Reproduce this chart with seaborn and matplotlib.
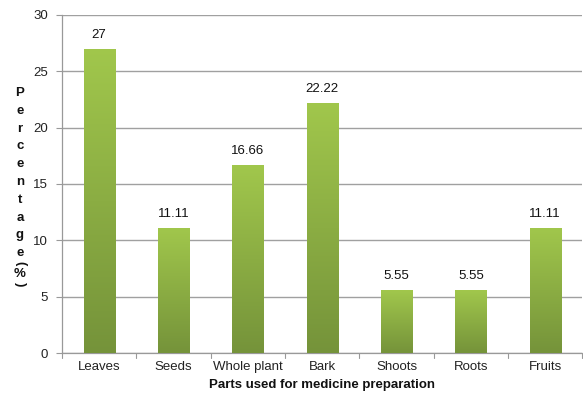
import matplotlib
matplotlib.use("Agg")
import matplotlib.pyplot as plt
import seaborn as sns
import numpy as np
import pandas as pd
from matplotlib.colors import LinearSegmentedColormap

categories = ["Leaves", "Seeds", "Whole plant", "Bark", "Shoots", "Roots", "Fruits"]
values = [27, 11.11, 16.66, 22.22, 5.55, 5.55, 11.11]
value_labels = ["27", "11.11", "16.66", "22.22", "5.55", "5.55", "11.11"]
yticks = [0, 5, 10, 15, 20, 25, 30]

sns.set_theme(style="white")
plt.rcParams['font.family'] = ['Liberation Sans', 'DejaVu Sans']

df = pd.DataFrame({"part": categories, "pct": values})

fig = plt.figure(figsize=(5.83, 4.01), dpi=100)
ax = fig.add_axes([0.1063, 0.1197, 0.8927, 0.8429])

sns.barplot(data=df, x="part", y="pct", ax=ax, color="#8db043", width=0.42,
            saturation=1, zorder=3)

ax.set_ylim(0, 30)
ax.set_xlim(-0.5, len(categories) - 0.5)
ax.set_yticks(yticks)
ax.set_yticklabels([str(t) for t in yticks], fontsize=9.5, color="#222222")
ax.tick_params(axis="x", labelsize=9.5, colors="#222222", length=0, pad=6)
ax.tick_params(axis="y", length=4, width=0.8, color="#999999", pad=6, direction="out", left=True)
ax.yaxis.grid(True, color="#a0a0a0", linewidth=1.0, zorder=0)
ax.set_axisbelow(True)
for s in ["top", "right"]:
    ax.spines[s].set_visible(False)
ax.spines["left"].set_color("#999999")
ax.spines["bottom"].set_color("#999999")
ax.spines["left"].set_linewidth(0.9)
ax.spines["bottom"].set_linewidth(0.9)

# category boundary ticks on x axis
for b in np.arange(-0.5, len(categories) + 0.5, 1.0):
    ax.plot([b, b], [0, -0.45], color="#999999", lw=0.8, clip_on=False, zorder=4)

# gradient fill on bars
cmap = LinearSegmentedColormap.from_list("g", ["#75933a", "#a1c74c"])
grad = np.linspace(0, 1, 256).reshape(-1, 1)
for patch in ax.patches:
    x0, y0 = patch.get_x(), patch.get_y()
    w, h = patch.get_width(), patch.get_height()
    im = ax.imshow(grad, extent=[x0, x0 + w, y0, y0 + h], origin="lower",
                   cmap=cmap, aspect="auto", zorder=3.5)
    im.set_clip_path(patch)
    patch.set_facecolor("none")
    patch.set_edgecolor("none")
ax.set_xlim(-0.5, len(categories) - 0.5)
ax.set_ylim(0, 30)

for i, (v, lab) in enumerate(zip(values, value_labels)):
    ax.text(i, v + 1.25, lab, ha="center", va="center", fontsize=9.5, color="#111111")

ax.set_xlabel("Parts used for medicine preparation", fontsize=9.5, fontweight="bold",
              color="#111111", labelpad=4)
ax.set_ylabel("")

# stacked vertical y label
letters = list("Percentage")
y_top = 1 - 93 / 401
step = 17.8 / 401
x_lab = 20 / 583
for k, ch in enumerate(letters):
    fig.text(x_lab, y_top - k * step, ch, ha="center", va="center", fontsize=9.5,
             fontweight="bold", color="#111111")
fig.text(x_lab, 1 - 263 / 401, "(", ha="center", va="center", fontsize=9.5,
         fontweight="bold", rotation=-90, color="#111111")
fig.text(x_lab, 1 - 274 / 401, "%", ha="center", va="center", fontsize=9.5,
         fontweight="bold", color="#111111")
fig.text(x_lab, 1 - 284 / 401, ")", ha="center", va="center", fontsize=9.5,
         fontweight="bold", rotation=-90, color="#111111")

fig.savefig("out.png", dpi=100)
